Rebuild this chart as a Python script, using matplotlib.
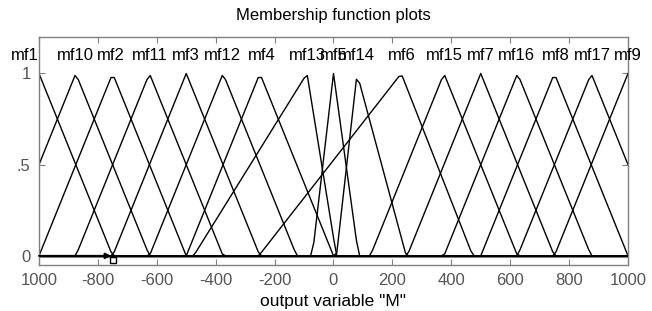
import numpy as np
import matplotlib
matplotlib.use("Agg")
import matplotlib.pyplot as plt

plt.rcParams['font.family'] = ['Liberation Sans', 'DejaVu Sans']

names = ['mf1', 'mf10', 'mf2', 'mf11', 'mf3', 'mf12', 'mf4', 'mf13', 'mf5',
         'mf14', 'mf6', 'mf15', 'mf7', 'mf16', 'mf8', 'mf17', 'mf9']
left_feet = [-1250, -1125, -1000, -875, -750, -625, -500, -475, -72,
             10, -254, 125, 250, 375, 500, 625, 750]
peaks = [-1000, -875, -750, -625, -500, -375, -250, -90, 0,
         80, 230, 375, 500, 625, 750, 875, 1000]
right_feet = [-750, -625, -500, -375, -250, -125, 0, 10, 85,
              247, 473, 625, 750, 875, 1000, 1125, 1250]

x_range = (-1000, 1000)
n_points = 181
xticks = [-1000, -800, -600, -400, -200, 0, 200, 400, 600, 800, 1000]
xtick_labels = ['1000', '-800', '-600', '-400', '-200', '0', '200', '400', '600', '800', '1000']
yticks = [0, 0.5, 1]
ytick_labels = ['0', '.5', '1']
cursor_x = (-1000, -755)
cursor_marker = (-750, -0.02)

def trimf(x, a, b, c):
    y = np.zeros_like(x)
    if b > a:
        m = (x >= a) & (x <= b)
        y[m] = (x[m] - a) / (b - a)
    if c > b:
        m = (x >= b) & (x <= c)
        y[m] = np.maximum(y[m], (c - x[m]) / (c - b))
    y[x == b] = 1.0
    return np.clip(y, 0, 1)

fig = plt.figure(figsize=(6.52, 3.11), dpi=100)
ax = fig.add_axes([0.0598, 0.148, 0.9034, 0.733])

xs = np.linspace(x_range[0], x_range[1], n_points)
ax.plot(xs, np.zeros_like(xs), color='#808080', lw=2.2, zorder=1)
for name, a, b, c in zip(names, left_feet, peaks, right_feet):
    ys = trimf(xs, a, b, c)
    ax.plot(xs, ys, color='black', lw=1.0, zorder=2)
    idx = np.where(ys == ys.max())[0]
    cx = xs[int(round(idx.mean()))]
    ha = 'right' if cx <= x_range[0] else 'center'
    ax.text(cx, 1.1, name, ha=ha, va='center', fontsize=12, color='black')

ax.annotate('', xy=(cursor_x[1], 0), xytext=(cursor_x[0], 0),
            arrowprops=dict(arrowstyle='-|>', color='black', lw=1.4,
                            mutation_scale=8, shrinkA=0, shrinkB=0), zorder=3)
ax.plot([cursor_marker[0]], [cursor_marker[1]], marker='s', ms=5, mfc='none',
        mec='black', mew=1.0, zorder=3, clip_on=False)

ax.set_xlim(*x_range)
ax.set_ylim(-0.05, 1.2)
ax.set_xticks(xticks)
ax.set_xticklabels(xtick_labels)
ax.set_yticks(yticks)
ax.set_yticklabels(ytick_labels)
ax.tick_params(direction='in', length=4, color='#808080', labelcolor='#555555',
               labelsize=12, top=True, right=True, pad=6)
for s in ax.spines.values():
    s.set_color('#808080')
    s.set_linewidth(1.0)
ax.set_title('Membership function plots', fontsize=12, pad=12)
ax.set_xlabel('output variable "M"', fontsize=12.5, labelpad=4)

fig.savefig('out.png', dpi=100)
